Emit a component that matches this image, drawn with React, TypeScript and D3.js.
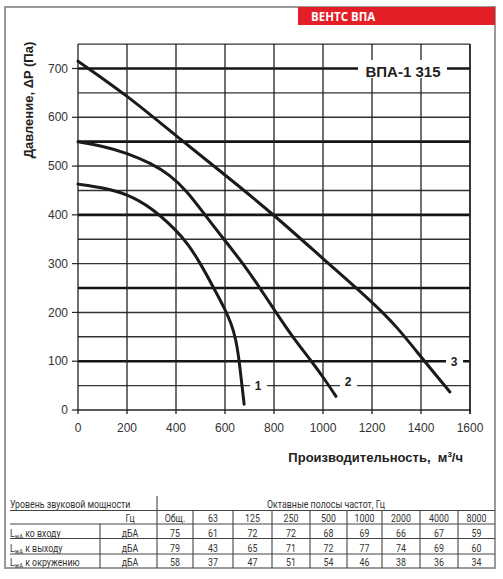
import React from 'react';
import * as d3 from 'd3';

// fan curves, flow m3/h vs pressure Pa
const curve1 = [[0, 463], [100, 456], [200, 443], [300, 415], [400, 369], [450, 340], [500, 300], [550, 254], [600, 207], [625, 178], [645, 145], [658, 100], [667, 60], [674, 30], [678, 12]];
const curve2 = [[0, 550], [100, 541], [200, 527], [300, 505], [375, 482], [443, 450], [518, 400], [600, 347], [674, 300], [743, 250], [804, 203], [878, 148], [955, 99], [1008, 62], [1053, 28]];
const curve3 = [[0, 715], [200, 645], [400, 562], [600, 482], [800, 400], [1000, 310], [1200, 222], [1300, 172], [1409, 103], [1518, 37]];
const curveLabels = [{ t: '1', x: 735, y: 50 }, { t: '2', x: 1102, y: 58 }, { t: '3', x: 1535, y: 100 }];

const flowTicks = [0, 200, 400, 600, 800, 1000, 1200, 1400, 1600];
const pressureTicks = [0, 100, 200, 300, 400, 500, 600, 700];
const gridLevels = d3.range(50, 751, 50);
const majorLevels = [100, 250, 400, 550, 700];

// sound table
const bands = ['Общ.', '63', '125', '250', '500', '1000', '2000', '4000', '8000'];
const rowNames = ['ко входу', 'к выходу', 'к окружению'];
const soundIn = [75, 61, 72, 72, 68, 69, 66, 67, 59];
const soundOut = [79, 43, 65, 71, 72, 77, 74, 69, 60];
const soundAround = [58, 37, 47, 51, 54, 46, 38, 36, 34];

const W = 503, H = 579;
const x = d3.scaleLinear().domain([0, 1600]).range([78, 470]);
const y = d3.scaleLinear().domain([0, 750]).range([410, 44.1]);

const line = d3.line<number[]>()
    .x(d => x(d[0]))
    .y(d => y(d[1]))
    .curve(d3.curveBasis);

const colEdges = [157, 193, 233, 272, 310, 347, 382, 420, 458, 495];
const rowLines = [510.5, 524, 538.5, 554];
const rowBase = [537, 552, 566];

const tableFont = 'Roboto, "Open Sans", sans-serif';

// condensed table text (the original uses a narrow face)
function Cell(props: { x: number, y: number, anchor?: string, children: any }) {
    return (
        <text transform={`translate(${props.x},${props.y}) scale(0.84,1)`} textAnchor={props.anchor || 'middle'}
            fontFamily={tableFont} fontSize={10.5} fill="#333">{props.children}</text>
    );
}

export default function App() {
    const chartFont = '"Liberation Sans", Arial, sans-serif';
    const rows = [soundIn, soundOut, soundAround];

    return (
        <svg width={W} height={H} style={{ position: 'absolute', left: 0, top: 0, background: '#fff' }}>
            {/* frame and header */}
            <rect x={5} y={7} width={490} height={561} fill="none" stroke="#9a9a9a" strokeWidth={2} />
            <rect x={298} y={7} width={197} height={18} fill="#e41e26" />
            <text x={311} y={21} fill="#fff" fontFamily='"Open Sans", sans-serif' fontWeight="bold" fontSize={11.5}>ВЕНТС ВПА</text>

            {/* grid */}
            {gridLevels.map(v => (
                <line key={'h' + v} x1={x(0)} x2={x(1600)} y1={y(v)} y2={y(v)}
                    stroke={majorLevels.includes(v) ? '#151515' : '#333'}
                    strokeWidth={majorLevels.includes(v) ? 2.6 : 1.4} />
            ))}
            {flowTicks.map(v => (
                <line key={'v' + v} x1={x(v)} x2={x(v)} y1={y(750)} y2={y(0) + 4}
                    stroke="#222" strokeWidth={v === 1600 ? 1.8 : 1.3} />
            ))}
            <line x1={x(0) - 1} x2={x(1600) + 1} y1={y(0)} y2={y(0)} stroke="#222" strokeWidth={1.4} />
            {pressureTicks.map(v => (
                <line key={'t' + v} x1={x(0) - 6} x2={x(0)} y1={y(v)} y2={y(v)} stroke="#222" strokeWidth={1.2} />
            ))}

            {/* tick labels */}
            {pressureTicks.map(v => (
                <text key={'yl' + v} x={68} y={y(v)} dy="0.35em" textAnchor="end"
                    fontFamily={chartFont} fontSize={12} fill="#333">{v}</text>
            ))}
            {flowTicks.map(v => (
                <text key={'xl' + v} x={x(v)} y={432} textAnchor="middle"
                    fontFamily={chartFont} fontSize={12} fill="#333">{v}</text>
            ))}

            {/* model label */}
            <rect x={358} y={60} width={89} height={18} fill="#fff" />
            <text x={403} y={72} dy="0.35em" textAnchor="middle" fontFamily={chartFont}
                fontWeight="bold" fontSize={15} fill="#222">ВПА-1 315</text>

            {/* curves */}
            {[curve1, curve2, curve3].map((c, i) => (
                <path key={'c' + i} d={line(c) || ''} fill="none" stroke="#1a1a1a" strokeWidth={3} strokeLinecap="round" />
            ))}
            {curveLabels.map(l => (
                <g key={'l' + l.t}>
                    <rect x={x(l.x) - 8} y={y(l.y) - 6} width={17} height={12} fill="#fff" />
                    <text x={x(l.x)} y={y(l.y)} dy="0.36em" textAnchor="middle" fontFamily={chartFont}
                        fontWeight="bold" fontSize={12} fill="#222">{l.t}</text>
                </g>
            ))}

            {/* axis titles */}
            <text transform="translate(33,100) rotate(-90)" textAnchor="middle" fontFamily={chartFont}
                fontWeight="bold" fontSize={13} fill="#222">Давление, ΔP (Па)</text>
            <text x={463} y={462} textAnchor="end" fontFamily={chartFont} fontWeight="bold" fontSize={13} fill="#222">
                {'Производительность,\u00a0\u00a0м'}<tspan dy={-5} fontSize={8}>3</tspan><tspan dy={5}>/ч</tspan>
            </text>

            {/* table */}
            <line x1={157} x2={157} y1={496} y2={568} stroke="#333" strokeWidth={1} />
            <line x1={100} x2={100} y1={524} y2={568} stroke="#333" strokeWidth={1} />
            {colEdges.slice(1, -1).map(c => (
                <line key={'cl' + c} x1={c} x2={c} y1={510.5} y2={568} stroke="#333" strokeWidth={1} />
            ))}
            {rowLines.map(r => (
                <line key={'rl' + r} x1={10} x2={495} y1={r} y2={r} stroke="#444" strokeWidth={1} />
            ))}
            <Cell x={10} y={507.5} anchor="start">Уровень звуковой мощности</Cell>
            <Cell x={326} y={507.5}>Октавные полосы частот, Гц</Cell>
            <Cell x={130} y={521.5}>Гц</Cell>
            {bands.map((b, i) => (
                <Cell key={'b' + b} x={(colEdges[i] + colEdges[i + 1]) / 2} y={521.5}>{b}</Cell>
            ))}
            {rows.map((r, ri) => (
                <g key={'r' + ri}>
                    <Cell x={10} y={rowBase[ri]} anchor="start">
                        L<tspan dy={2} fontSize={7}>wA</tspan><tspan dy={-2}>{'\u00a0' + rowNames[ri]}</tspan>
                    </Cell>
                    <Cell x={130} y={rowBase[ri]}>дБА</Cell>
                    {r.map((v, i) => (
                        <Cell key={'v' + i} x={(colEdges[i] + colEdges[i + 1]) / 2} y={rowBase[ri]}>{v}</Cell>
                    ))}
                </g>
            ))}
        </svg>
    );
}
